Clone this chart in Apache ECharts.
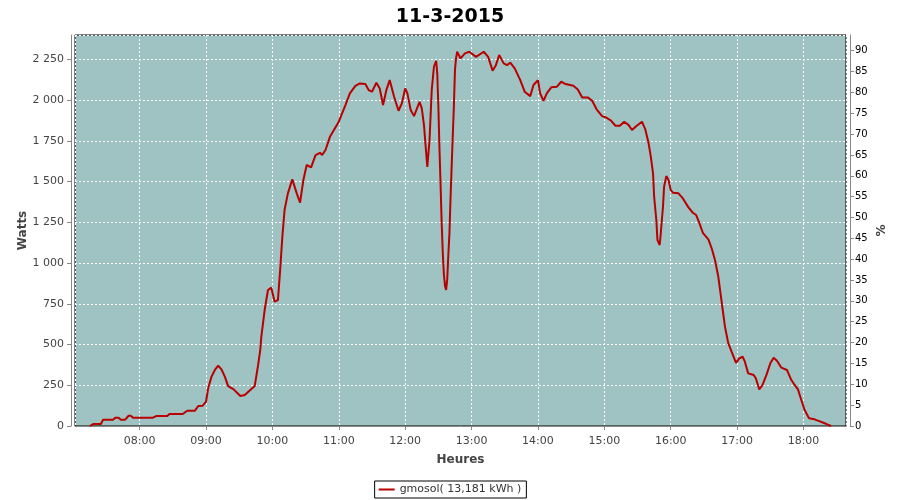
<!DOCTYPE html>
<html>
<head>
<meta charset="utf-8">
<script src="https://cdn.jsdelivr.net/npm/echarts@6/dist/echarts.min.js"></script>
<style>html,body{margin:0;padding:0;background:#fff}#c{width:900px;height:500px}</style>
</head>
<body>
<div id="c"></div>
<script>
const chartTitle = '11-3-2015';
const seriesName = 'gmosol( 13,181 kWh )';
const times = [
'07:15','07:18','07:25','07:27','07:36','07:38','07:41','07:43','07:47','07:50','07:52','07:54',
'08:12','08:15','08:25','08:27','08:39','08:43','08:50','08:53','08:57','09:00','09:02','09:05',
'09:08','09:11','09:14','09:17','09:20','09:25','09:31','09:35','09:40','09:44','09:47','09:49',
'09:50','09:53','09:56','09:59','10:02','10:05','10:07','10:09','10:11','10:14','10:18','10:22',
'10:25','10:28','10:31','10:35','10:39','10:43','10:45','10:48','10:52','11:00','11:06','11:10',
'11:15','11:19','11:24','11:27','11:30','11:34','11:37','11:40','11:43','11:46','11:50','11:54',
'11:57','12:00','12:02','12:05','12:08','12:13','12:15','12:17','12:19','12:20','12:22','12:24',
'12:26','12:28','12:29','12:30','12:31','12:32','12:33','12:34','12:35','12:36','12:37','12:38',
'12:39','12:40','12:41','12:42','12:43','12:44','12:45','12:46','12:47','12:50','12:54','12:58',
'13:04','13:11','13:15','13:19','13:22','13:25','13:29','13:32','13:35','13:39','13:44','13:48',
'13:53','13:56','14:00','14:02','14:05','14:08','14:12','14:17','14:21','14:25','14:32','14:36',
'14:40','14:45','14:49','14:53','14:58','15:02','15:06','15:10','15:14','15:18','15:22','15:25',
'15:29','15:34','15:37','15:40','15:42','15:44','15:45','15:47','15:48','15:50','15:51','15:53',
'15:54','15:56','15:58','16:00','16:02','16:07','16:11','16:16','16:20','16:23','16:26','16:29',
'16:34','16:37','16:40','16:43','16:45','16:47','16:49','16:52','16:55','16:59','17:02','17:05',
'17:07','17:10','17:15','17:17','17:20','17:23','17:27','17:30','17:33','17:36','17:40','17:45',
'17:49','17:52','17:55','17:58','18:01','18:05','18:10','18:13','18:18','18:22','18:25'
];
const watts = [
0,12,12,39,39,51,51,39,39,63,63,51,
51,61,61,74,74,94,94,123,125,149,233,303,
344,370,348,303,245,225,184,190,221,245,370,466,
548,712,835,849,763,773,957,1162,1326,1428,1514,1428,
1371,1510,1602,1588,1663,1677,1663,1694,1775,1868,1970,2042,
2088,2103,2099,2062,2052,2107,2072,1970,2062,2123,2021,1935,
1980,2072,2042,1939,1902,1990,1950,1847,1674,1591,1755,2062,
2205,2242,2164,1960,1700,1480,1244,1060,930,860,835,900,
1050,1183,1400,1591,1780,1960,2185,2260,2297,2256,2287,2297,
2266,2297,2266,2181,2215,2277,2226,2215,2230,2195,2123,2052,
2025,2093,2123,2042,1996,2042,2079,2082,2113,2099,2088,2066,
2017,2017,1996,1944,1902,1892,1874,1843,1843,1868,1847,1817,
1841,1868,1821,1735,1653,1551,1407,1264,1141,1111,1183,1346,
1469,1534,1510,1448,1432,1428,1397,1342,1309,1295,1244,1186,
1146,1091,1019,916,814,712,610,508,456,388,415,425,
395,323,313,292,225,252,323,385,419,401,358,344,
282,252,225,160,98,47,41,33,20,8,0
];
const xMin = '07:01:36', xMax = '18:38:24';
const wattsMax = 2400, wattsStep = 250;
const pctMax = 93.75, pctStep = 5;

function toDate(s){ const p=s.split(':').map(Number); return new Date(2015,2,11,p[0],p[1],p[2]||0).getTime(); }
function pad(n){ return (n<10?'0':'')+n; }
const data = times.map((t,i)=>[toDate(t), watts[i]]);
const FONT = 'DejaVu Sans';
const chart = echarts.init(document.getElementById('c'), null, {renderer:'canvas'});
chart.setOption({
  animation:false,
  backgroundColor:'#ffffff',
  textStyle:{fontFamily:FONT},
  title:{text:chartTitle, left:'center', top:3, textStyle:{fontFamily:FONT, fontSize:19, fontWeight:'bold', color:'#000'}},
  grid:{left:75, right:54, top:35, bottom:74, show:true, backgroundColor:'#9fc3c2', borderColor:'#000', borderWidth:1},
  legend:{bottom:2, left:'center', data:[seriesName], icon:'rect', itemWidth:16, itemHeight:2, itemGap:4,
    padding:[3,5,3,4], borderColor:'#000', borderWidth:1, borderRadius:0,
    textStyle:{fontFamily:FONT, fontSize:11, color:'#333', padding:[0,0,0,0]}},
  xAxis:{type:'time', min:toDate(xMin), max:toDate(xMax), minInterval:3600000, maxInterval:3600000, offset:4,
    name:'Heures', nameLocation:'middle', nameGap:24, nameMoveOverlap:false,
    nameTextStyle:{fontFamily:FONT, fontSize:12, fontWeight:'bold', color:'#444'},
    axisLine:{show:true, lineStyle:{color:'#888', width:1}},
    axisTick:{show:true, length:4, lineStyle:{color:'#888'}},
    axisLabel:{margin:6, fontFamily:FONT, fontSize:11, color:'#444', showMinLabel:false, showMaxLabel:false,
      formatter:function(v){ const d=new Date(v); return pad(d.getHours())+':'+pad(d.getMinutes()); }},
    splitLine:{show:true, lineStyle:{color:'#ffffff', type:[2,2], width:1}}
  },
  yAxis:[{type:'value', min:0, max:wattsMax, interval:wattsStep, offset:4, position:'left',
    name:'Watts', nameLocation:'middle', nameGap:42, nameMoveOverlap:false,
    nameTextStyle:{fontFamily:FONT, fontSize:12, fontWeight:'bold', color:'#444'},
    axisLine:{show:true, lineStyle:{color:'#888', width:1}},
    axisTick:{show:true, length:4, lineStyle:{color:'#888'}},
    axisLabel:{margin:7, fontFamily:FONT, fontSize:11, color:'#444', showMaxLabel:false,
      formatter:function(v){ return String(v).replace(/\B(?=(\d{3})+(?!\d))/g,' '); }},
    splitLine:{show:true, lineStyle:{color:'#ffffff', type:[2,2], width:1}}
  },{type:'value', min:0, max:pctMax, interval:pctStep, offset:4, position:'right',
    name:'%', nameLocation:'middle', nameGap:26, nameRotate:90, nameMoveOverlap:false,
    nameTextStyle:{fontFamily:FONT, fontSize:12, fontWeight:'bold', color:'#444'},
    axisLine:{show:true, lineStyle:{color:'#888', width:1}},
    axisTick:{show:true, length:4, lineStyle:{color:'#888'}},
    axisLabel:{margin:5, fontFamily:FONT, fontSize:10, color:'#000', showMaxLabel:false},
    splitLine:{show:false}
  }],
  series:[{name:seriesName, type:'line', data:data, yAxisIndex:0, symbol:'none', smooth:false,
    lineStyle:{color:'#b80000', width:2}, itemStyle:{color:'#b80000'}}]
});
</script>
</body>
</html>
